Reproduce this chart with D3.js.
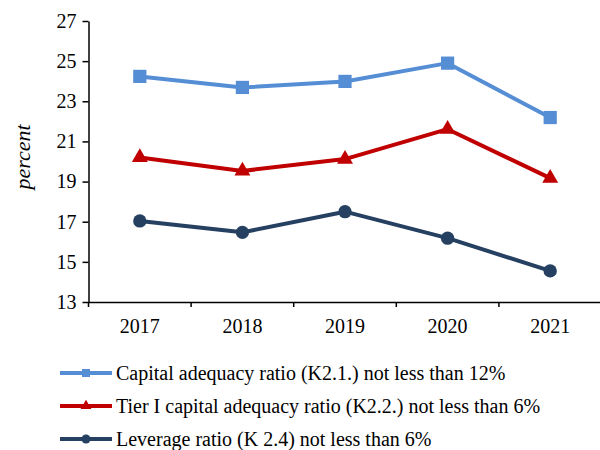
<!DOCTYPE html>
<html><head><meta charset="utf-8">
<script src="https://cdn.jsdelivr.net/npm/d3@7"></script>
<style>body{margin:0;background:#fff}svg{display:block}</style>
</head><body>
<svg id="c" width="600" height="450"></svg>
<script>
const years = ["2017","2018","2019","2020","2021"];
const capital = [24.24, 23.69, 23.99, 24.9, 22.19];
const tier1 = [20.2, 19.53, 20.12, 21.61, 19.17];
const leverage = [17.04, 16.47, 17.5, 16.18, 14.55];
const yTicks = [13,15,17,19,21,23,25,27];
const seriesNames = ["Capital adequacy ratio (K2.1.) not less than 12%","Tier I capital adequacy ratio (K2.2.) not less than 6%","Leverage ratio (K 2.4) not less than 6%"];
const colors = ["#558ED5","#C00000","#254061"];
const symbols = [d3.symbolSquare, d3.symbolTriangle, d3.symbolCircle];
const yLabel = "percent";

const series = [capital, tier1, leverage].map((v,i)=>({name:seriesNames[i], values:v, color:colors[i], symbol:symbols[i]}));

const svg = d3.select("#c");
const font = "Liberation Serif";
const x = d3.scaleBand().domain(years).range([88.5, 601.5]);
const y = d3.scaleLinear().domain([13,27]).range([302, 21]);

const gx = svg.append("g").attr("transform","translate(0,302)")
  .call(d3.axisBottom(x).tickSize(0).tickPadding(17));
gx.attr("font-family",font);
gx.select(".domain").attr("stroke","#000").attr("stroke-width",1.5);
gx.selectAll("text").style("font-family",font).attr("font-size",20).attr("fill","#000");
gx.selectAll(".bt").data(years.concat(["end"])).enter().append("line")
  .attr("x1",(d,i)=>88.5+i*x.step()).attr("x2",(d,i)=>88.5+i*x.step())
  .attr("y1",0).attr("y2",5).attr("stroke","#000").attr("stroke-width",1.5);

const gy = svg.append("g").attr("transform","translate(88.5,0)")
  .call(d3.axisLeft(y).tickValues(yTicks).tickSize(6).tickPadding(6).tickSizeOuter(0));
gy.attr("font-family",font);
gy.select(".domain").attr("stroke","#000").attr("stroke-width",1.5);
gy.selectAll(".tick line").attr("stroke","#000").attr("stroke-width",1.5);
gy.selectAll("text").style("font-family",font).attr("font-size",20).attr("fill","#000");

svg.append("text").attr("transform","translate(30,157) rotate(-90)")
  .attr("text-anchor","middle").style("font-family",font).attr("font-style","italic")
  .attr("font-size",22).text(yLabel);

const line = d3.line().x((d,i)=>x(years[i])+x.bandwidth()/2).y(d=>y(d));
series.forEach(s=>{
  svg.append("path").datum(s.values).attr("d",line).attr("fill","none")
    .attr("stroke",s.color).attr("stroke-width",4).attr("stroke-linejoin","round");
  svg.selectAll(null).data(s.values).enter().append("path")
    .attr("d",d3.symbol().type(s.symbol).size(s.symbol===d3.symbolSquare?175:(s.symbol===d3.symbolTriangle?110:140)))
    .attr("transform",(d,i)=>`translate(${x(years[i])+x.bandwidth()/2},${y(d)})`)
    .attr("fill",s.color);
});

const legY = [373, 406, 439];
series.forEach((s,i)=>{
  const g = svg.append("g").attr("transform",`translate(0,${legY[i]})`);
  g.append("line").attr("x1",60).attr("x2",112).attr("stroke",s.color).attr("stroke-width",4);
  g.append("path").attr("d",d3.symbol().type(s.symbol).size(s.symbol===d3.symbolSquare?64:(s.symbol===d3.symbolTriangle?50:64)))
    .attr("transform","translate(86,0)").attr("fill",s.color);
  g.append("text").attr("x",116).attr("y",0).attr("dy","0.35em")
    .style("font-family",font).attr("font-size",20).attr("fill","#000").text(s.name);
});
</script>
</body></html>
